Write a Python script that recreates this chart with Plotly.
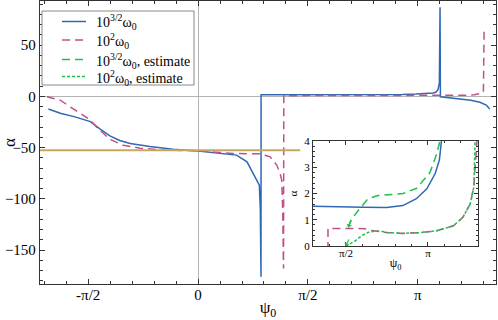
import math

import plotly.graph_objects as go

# alpha(psi_0) for 10^{3/2} omega_0 (solid blue)
psi_blue = [-2.14, -1.97, -1.76, -1.54, -1.40, -1.26, -1.12, -0.97, -0.69, -0.36, 0.0,
            0.41, 0.55, 0.70, 0.79, 0.848, 0.876, 0.89, 0.90,
            0.901, 1.07, 1.58, 1.9, 2.35, 2.66, 2.92, 3.12, 3.28, 3.36, 3.40, 3.43, 3.45, 3.46,
            3.465, 3.6, 3.75, 3.9, 4.03, 4.12, 4.17]
alpha_blue = [-12.4, -16.4, -20.0, -24.6, -32.0, -38.5, -43.0, -46.0, -49.0, -51.5, -53.4,
              -56.3, -57.3, -63.8, -75.0, -81.7, -86.6, -110.0, -176.0,
              1.52, 1.51, 1.50, 1.48, 1.47, 1.54, 1.80, 2.18, 2.76, 3.27, 4.0, 6.5, 13.0, 87.0,
              -0.5, -1.5, -2.7, -3.8, -5.8, -8.5, -12.4]

# alpha(psi_0) for 10^2 omega_0 (dashed pink)
psi_pink = [-2.16, -1.97, -1.83, -1.69, -1.54, -1.45, -1.26, -1.07, -0.83, -0.5, 0.0,
            0.5, 0.74, 0.89, 1.03, 1.125, 1.172, 1.196, 1.21, 1.222,
            1.226, 1.5, 1.93, 2.03, 2.35, 2.66, 2.99, 3.31, 3.63, 3.81, 3.95, 4.02, 4.05, 4.08, 4.09]
alpha_pink = [-0.4, -3.7, -10.2, -16.6, -23.0, -30.0, -42.0, -47.6, -50.5, -52.4, -53.0,
              -55.7, -55.7, -56.0, -59.0, -67.0, -75.0, -81.7, -110.0, -168.0,
              0.67, 0.67, 0.66, 0.60, 0.51, 0.48, 0.51, 0.58, 0.77, 1.09, 1.6, 2.24, 3.0, 4.0, 66.0]

# estimates (inset only)
psi_est_hi = [1.615, 1.68, 1.806, 1.992, 2.184, 2.35, 2.668, 2.925, 3.18, 3.308, 3.371, 3.40]
alpha_est_hi = [0.71, 1.03, 1.35, 1.80, 1.92, 1.95, 2.0, 2.2, 2.8, 3.5, 4.0, 5.5]

psi_est_lo = [1.565, 1.615, 1.743, 1.877, 1.998, 2.145, 2.28, 2.35, 2.66, 2.99, 3.31,
              3.63, 3.81, 3.95, 4.02, 4.05, 4.08, 4.10]
alpha_est_lo = [-0.02, 0.05, 0.19, 0.40, 0.52, 0.57, 0.55, 0.51, 0.48, 0.51, 0.58,
                0.77, 1.09, 1.6, 2.24, 3.0, 4.0, 8.0]

# limiting value (gold line)
limit_psi = [-2.26, 1.46]
limit_alpha = [-52.5, -52.5]

series_names = ["10<sup>3/2</sup>ω<sub>0</sub>", "10<sup>2</sup>ω<sub>0</sub>",
                "10<sup>3/2</sup>ω<sub>0</sub>, estimate", "10<sup>2</sup>ω<sub>0</sub>, estimate"]

x_ticks = [-math.pi / 2, 0, math.pi / 2, math.pi]
x_labels = ["-π/2", "0", "π/2", "π"]
inset_x_ticks = [math.pi / 2, math.pi]
inset_x_labels = ["π/2", "π"]

BLUE = "#2f68b4"
PINK = "#c0508a"
GREEN = "#1fbf4a"
GOLD = "#c8a860"
FRAME = "#333333"
SERIF = "Liberation Serif"
DASH = "8px,5px"
DOT = "3px,2px"

W, H = 498, 320
M_L, M_R, M_T, M_B = 40, 2, 1, 36
PW, PH = W - M_L - M_R, H - M_T - M_B


def px_x(px):
    return (px - M_L) / PW


def px_y(py):
    return (H - M_B - py) / PH


# the inset only shows the blue curve up to its second pole
inset_blue = [(p, a) for p, a in zip(psi_blue, alpha_blue) if p <= 3.46]

fig = go.Figure()

fig.add_trace(go.Scatter(x=psi_blue, y=alpha_blue, mode="lines", showlegend=False,
                         line=dict(color=BLUE, width=1.5), xaxis="x", yaxis="y"))
fig.add_trace(go.Scatter(x=psi_pink, y=alpha_pink, mode="lines", showlegend=False,
                         line=dict(color=PINK, width=1.5, dash=DASH), xaxis="x", yaxis="y"))
fig.add_trace(go.Scatter(x=limit_psi, y=limit_alpha, mode="lines", showlegend=False,
                         line=dict(color=GOLD, width=2), xaxis="x", yaxis="y"))

# inset
fig.add_trace(go.Scatter(x=[p for p, _ in inset_blue], y=[a for _, a in inset_blue], mode="lines",
                         showlegend=False, line=dict(color=BLUE, width=1.5), xaxis="x2", yaxis="y2"))
fig.add_trace(go.Scatter(x=psi_pink, y=alpha_pink, mode="lines", showlegend=False,
                         line=dict(color=PINK, width=1.5, dash=DASH), xaxis="x2", yaxis="y2"))
fig.add_trace(go.Scatter(x=psi_est_hi, y=alpha_est_hi, mode="lines", showlegend=False,
                         line=dict(color=GREEN, width=1.5, dash=DASH), xaxis="x2", yaxis="y2"))
fig.add_trace(go.Scatter(x=psi_est_lo, y=alpha_est_lo, mode="lines", showlegend=False,
                         line=dict(color=GREEN, width=1.5, dash=DOT), xaxis="x2", yaxis="y2"))

# hand-made legend box (plotly's own rows are too tall for this)
shapes = [
    dict(type="line", xref="x2", yref="paper", x0=1.21, x1=1.21, y0=0.1343, y1=0.5053,
         line=dict(color="#b4b4b4", width=1), layer="below"),
    dict(type="rect", xref="paper", yref="paper", x0=px_x(42), x1=px_x(194), y0=px_y(85), y1=px_y(11),
         line=dict(color="#888888", width=1), fillcolor="white", layer="above"),
]
annotations = []
legend_styles = [(BLUE, "solid"), (PINK, DASH), (GREEN, DASH), (GREEN, DOT)]
legend_rows = [21.5, 40, 59.5, 76.5]
for name, (color, dash), row in zip(series_names, legend_styles, legend_rows):
    shapes.append(dict(type="line", xref="paper", yref="paper", x0=px_x(62), x1=px_x(86),
                       y0=px_y(row), y1=px_y(row), line=dict(color=color, width=1.5, dash=dash),
                       layer="above"))
    annotations.append(dict(text=name, xref="paper", yref="paper", x=px_x(94), y=px_y(row + 1),
                            xanchor="left", yanchor="middle", showarrow=False,
                            font=dict(family=SERIF, size=14, color="black")))

annotations += [
    dict(x=1.615, y=0.71, xref="x2", yref="y2", text="", showarrow=True, arrowhead=1,
         arrowsize=0.8, arrowwidth=1.2, arrowcolor=GREEN, ax=3, ay=-9),
    dict(x=1.565, y=0.0, xref="x2", yref="y2", text="", showarrow=True, arrowhead=1,
         arrowsize=0.8, arrowwidth=1.2, arrowcolor=GREEN, ax=4, ay=-8),
]

main_axis = dict(showline=True, linecolor=FRAME, linewidth=1.3, mirror="allticks",
                 ticks="inside", ticklen=5, tickwidth=1, tickcolor=FRAME, showgrid=False,
                 automargin=False, tickfont=dict(family=SERIF, size=15, color="black"))

fig.update_layout(
    width=W, height=H,
    margin=dict(l=M_L, r=M_R, t=M_T, b=M_B, autoexpand=False),
    paper_bgcolor="white", plot_bgcolor="white",
    font=dict(family=SERIF, color="black"),
    showlegend=False,
    xaxis=dict(main_axis, range=[-2.26, 4.26], tickmode="array", tickvals=x_ticks, ticktext=x_labels,
               zeroline=True, zerolinecolor="#b4b4b4", zerolinewidth=1, ticklabelstandoff=-3,
               minor=dict(ticks="inside", ticklen=3, tickcolor=FRAME, dtick=math.pi / 10, tick0=0),
               title=dict(text="ψ<sub>0</sub>", font=dict(size=17), standoff=5)),
    yaxis=dict(main_axis, range=[-183, 93], tickvals=[-150, -100, -50, 0, 50],
               zeroline=True, zerolinecolor="#b4b4b4", zerolinewidth=1,
               minor=dict(ticks="inside", ticklen=3, tickcolor=FRAME, dtick=10, tick0=0),
               title=dict(text="α", font=dict(size=17), standoff=8)),
    xaxis2=dict(main_axis, domain=[0.5987, 0.9605], anchor="y2", range=[0.939, 4.10],
                tickmode="array", tickvals=inset_x_ticks, ticktext=inset_x_labels,
                tickfont=dict(family=SERIF, size=11), ticklen=4, zeroline=False, ticklabelstandoff=-3,
                minor=dict(ticks="inside", ticklen=2, tickcolor=FRAME, dtick=math.pi / 10, tick0=0),
                title=dict(text="ψ<sub>0</sub>", font=dict(size=12), standoff=0)),
    yaxis2=dict(main_axis, domain=[0.1343, 0.5053], anchor="x2", range=[0, 4], dtick=1,
                tickfont=dict(family=SERIF, size=11), ticklen=4, zeroline=False,
                minor=dict(ticks="inside", ticklen=2, tickcolor=FRAME, dtick=0.2, tick0=0),
                title=dict(text="α", font=dict(size=11), standoff=4)),
    shapes=shapes,
    annotations=annotations,
)

# drop the browser's default body margin so the figure sits at the window corner
fig.write_html("out.html", config={"displayModeBar": False},
               post_script="document.body.style.margin = '0';")
